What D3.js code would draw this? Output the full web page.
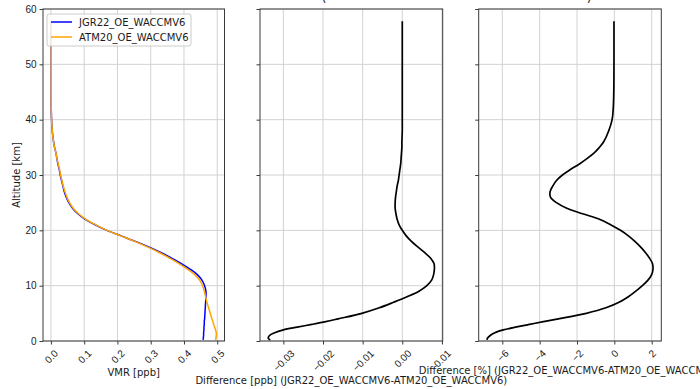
<!DOCTYPE html>
<html lang="en">
<head>
<meta charset="utf-8">
<title>profiles</title>
<script src="https://cdn.jsdelivr.net/npm/d3@7"></script>
<style>
    body { margin: 0; background: #fff; }
    svg { display: block; font-family: "DejaVu Sans", sans-serif; }
</style>
</head>
<body>
<svg id="chart" width="700" height="389"></svg>
<script>
// altitude grid [km] and profiles
const altitude = [0.2, 0.5, 1, 1.5, 2, 2.5, 3, 3.5, 4, 5, 6, 7, 8, 9, 10, 11, 12, 13, 14, 15, 16, 17, 18, 19, 20,
    21, 22, 23, 24, 25, 26, 27, 28, 29, 30, 31, 32, 33, 34, 35, 36, 38, 40, 42, 45, 50, 55, 57.8]
const vmrJGR22 = [0.458, 0.458, 0.459, 0.459, 0.460, 0.460, 0.461, 0.461, 0.462, 0.463, 0.464, 0.465, 0.466, 0.466,
    0.462, 0.454, 0.440, 0.418, 0.392, 0.362, 0.330, 0.294, 0.254, 0.211, 0.168,
    0.133, 0.103, 0.081, 0.065, 0.054, 0.046, 0.040, 0.036, 0.032, 0.028, 0.025, 0.021, 0.018, 0.015, 0.011,
    0.008, 0.004, 0.002, 0.001, 0.001, 0.001, 0.001, 0.001]
const vmrATM20 = [0.495, 0.496, 0.497, 0.497, 0.495, 0.492, 0.489, 0.487, 0.484, 0.479, 0.474, 0.469, 0.465, 0.461,
    0.456, 0.447, 0.432, 0.410, 0.385, 0.356, 0.325, 0.290, 0.252, 0.210, 0.169,
    0.135, 0.105, 0.083, 0.067, 0.056, 0.048, 0.042, 0.037, 0.033, 0.029, 0.026, 0.022, 0.018, 0.015, 0.011,
    0.008, 0.004, 0.002, 0.001, 0.001, 0.001, 0.001, 0.001]
const diffPpb = [-0.0333, -0.0338, -0.0335, -0.0322, -0.0300, -0.0265, -0.0228, -0.0193, -0.0162, -0.0102, -0.0058,
    -0.0022, 0.0012, 0.0042, 0.0062, 0.0074, 0.0079, 0.0081, 0.0080, 0.0071, 0.0056, 0.0039, 0.0023, 0.0010, 0.0000,
    -0.0008, -0.0013, -0.0016, -0.0018, -0.0018, -0.0017, -0.0015, -0.0013, -0.0010, -0.0008, -0.0006, -0.0004,
    -0.0003, -0.0002, -0.0001, -0.0001, 0, 0, 0, 0, 0, 0, 0]
const diffPct = [-6.82, -6.80, -6.65, -6.40, -5.95, -5.30, -4.55, -3.80, -3.00, -1.50, -0.45, 0.25, 0.75, 1.15,
    1.50, 1.80, 2.00, 2.07, 2.04, 1.88, 1.66, 1.40, 1.10, 0.75, 0.33,
    -0.20, -0.80, -1.70, -2.55, -3.10, -3.42, -3.44, -3.30, -3.10, -2.78, -2.35, -1.87, -1.45, -1.08, -0.80,
    -0.57, -0.30, -0.12, -0.06, -0.03, -0.02, -0.02, -0.02]

const seriesNames = ['JGR22_OE_WACCMV6', 'ATM20_OE_WACCMV6']
const altTicks = [0, 10, 20, 30, 40, 50, 60]
const vmrTicks = [0, 0.1, 0.2, 0.3, 0.4, 0.5]
const ppbTicks = [-0.03, -0.02, -0.01, 0, 0.01]
const pctTicks = [-6, -4, -2, 0, 2]

const fontSize = 10
const svg = d3.select('#chart')
const plotTop = 9, plotBottom = 341

const y = d3.scaleLinear().domain([0, 60]).range([plotBottom, plotTop])

// matplotlib style 5% margins
function padded(lists) {
    const [lo, hi] = d3.extent(lists.flat())
    const m = (hi - lo) * 0.05
    return [lo - m, hi + m]
}

const panels = [
    {
        left: 43, right: 224.5, series: [vmrJGR22, vmrATM20], colors: ['#0000ff', '#ffa500'], width: 1.5,
        ticks: vmrTicks, fmt: d3.format('.1f'), label: 'VMR [ppb]', yLabels: true
    },
    {
        left: 260, right: 442.7, series: [diffPpb], colors: ['#000'], width: 1.7,
        ticks: ppbTicks, fmt: d3.format('.2f'), label: 'Difference [ppb] (JGR22_OE_WACCMV6-ATM20_OE_WACCMV6)'
    },
    {
        left: 478.7, right: 661.3, series: [diffPct], colors: ['#000'], width: 1.7,
        ticks: pctTicks, fmt: d3.format('d'), label: 'Difference [%] (JGR22_OE_WACCMV6-ATM20_OE_WACCMV6)'
    }
]

panels.forEach(p => {
    const x = d3.scaleLinear().domain(padded(p.series)).range([p.left, p.right])
    const g = svg.append('g')

    // grid
    g.selectAll('line.gx').data(p.ticks).enter().append('line')
        .attr('x1', d => x(d)).attr('x2', d => x(d))
        .attr('y1', plotTop).attr('y2', plotBottom)
        .style('stroke', '#d2d2d2').style('stroke-width', 1)
    g.selectAll('line.gy').data(altTicks).enter().append('line')
        .attr('x1', p.left).attr('x2', p.right)
        .attr('y1', d => y(d)).attr('y2', d => y(d))
        .style('stroke', '#d2d2d2').style('stroke-width', 1)

    // profiles
    const line = d3.line()
        .x(d => x(d[0]))
        .y(d => y(d[1]))
        .curve(d3.curveCatmullRom.alpha(0.5))
    p.series.forEach((vals, i) => {
        g.append('path')
            .datum(vals.map((v, k) => [v, altitude[k]]))
            .attr('d', line)
            .style('fill', 'none')
            .style('stroke', p.colors[i])
            .style('stroke-width', p.width)
    })

    // frame
    g.append('rect')
        .attr('x', p.left).attr('y', plotTop)
        .attr('width', p.right - p.left).attr('height', plotBottom - plotTop)
        .style('fill', 'none').style('stroke', '#3a3a3a').style('stroke-width', 1)

    // x axis with 45 degree labels
    const xa = g.append('g')
        .attr('transform', `translate(0,${plotBottom})`)
        .call(d3.axisBottom(x).tickValues(p.ticks).tickFormat(p.fmt).tickSize(3.5))
    xa.select('.domain').remove()
    xa.selectAll('line').style('stroke', '#3a3a3a')
    let maxDrop = 0
    xa.selectAll('text')
        .style('font-size', fontSize + 'px').style('fill', '#1a1a1a')
        .attr('y', 0).attr('dy', null)
        .attr('dominant-baseline', 'central')
        .each(function () {
            const w = this.getComputedTextLength()
            const h = fontSize * 1.05
            const box = (w + h) / Math.SQRT2
            maxDrop = Math.max(maxDrop, 7 + box)
            d3.select(this).attr('transform', `translate(0,${7 + box / 2}) rotate(-45)`)
        })
    g.append('text')
        .attr('x', (p.left + p.right) / 2)
        .attr('y', plotBottom + maxDrop + 3)
        .attr('dy', '0.78em')
        .attr('text-anchor', 'middle')
        .style('font-size', fontSize + 'px').style('fill', '#1a1a1a')
        .text(p.label)

    // y axis
    const ya = g.append('g')
        .attr('transform', `translate(${p.left},0)`)
        .call(d3.axisLeft(y).tickValues(altTicks).tickSize(3.5)
            .tickFormat(p.yLabels ? d3.format('d') : ''))
    ya.select('.domain').remove()
    ya.selectAll('line').style('stroke', '#3a3a3a')
    ya.selectAll('text').style('font-size', fontSize + 'px').style('fill', '#1a1a1a')

    if (p.yLabels) {
        g.append('text')
            .attr('transform', `translate(16,${(plotTop + plotBottom) / 2}) rotate(-90)`)
            .attr('text-anchor', 'middle')
            .attr('dominant-baseline', 'central')
            .style('font-size', fontSize + 'px').style('fill', '#1a1a1a')
            .text('Altitude [km]')
    }
})

// legend on first panel
const legend = svg.append('g')
legend.append('rect')
    .attr('x', 47).attr('y', 14).attr('width', 144).attr('height', 32).attr('rx', 2)
    .style('fill', '#fff').style('fill-opacity', 0.8)
    .style('stroke', '#cccccc').style('stroke-width', 1)
seriesNames.forEach((name, i) => {
    const ly = 22 + i * 15
    legend.append('line')
        .attr('x1', 51).attr('x2', 72).attr('y1', ly).attr('y2', ly)
        .style('stroke', panels[0].colors[i]).style('stroke-width', 1.5)
    legend.append('text')
        .attr('x', 79).attr('y', ly)
        .attr('dominant-baseline', 'central')
        .style('font-size', fontSize + 'px').style('fill', '#1a1a1a')
        .text(name)
})

// remains of the figure title, cut off at the top edge
svg.append('text').attr('x', 324).attr('y', 1.5).attr('text-anchor', 'middle')
    .style('font-size', '12px').style('fill', '#1a1a1a').text('(')
svg.append('text').attr('x', 589).attr('y', 1.5).attr('text-anchor', 'middle')
    .style('font-size', '12px').style('fill', '#1a1a1a').text(')')
</script>
</body>
</html>
